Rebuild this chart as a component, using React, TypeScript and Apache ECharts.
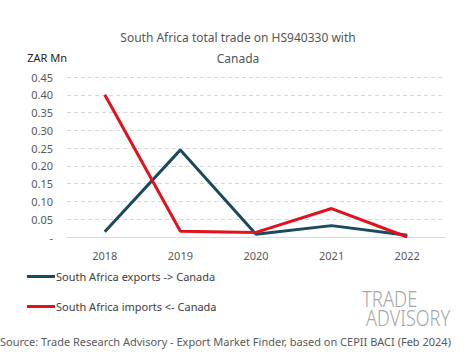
import React, { useEffect, useRef } from "react";
import * as echarts from "echarts";

const years = ["2018", "2019", "2020", "2021", "2022"];
const exportsToCanada = [0.015, 0.245, 0.008, 0.032, 0.005];
const importsFromCanada = [0.4, 0.016, 0.013, 0.08, 0.0];
const yTicks = { min: 0, max: 0.45, interval: 0.05 };

export default function App() {
  const ref = useRef<HTMLDivElement>(null);
  useEffect(() => {
    const chart = echarts.init(ref.current!, null, { renderer: "svg" });
    const font = "Noto Sans";
    chart.setOption({
      animation: false,
      backgroundColor: "#ffffff",
      textStyle: { fontFamily: font },
      title: {
        text: "South Africa total trade on HS940330 with\n\nCanada",
        left: 233,
        textAlign: "center",
        top: 27,
        textStyle: { fontSize: 12, fontWeight: "normal", color: "#555555", lineHeight: 10.5, fontFamily: font },
      },
      grid: { left: 67, right: 20, top: 77, bottom: 122, containLabel: false },
      xAxis: {
        type: "category",
        data: years,
        boundaryGap: true,
        axisLine: { show: true, lineStyle: { color: "#d9d9d9" } },
        axisTick: { show: false },
        axisLabel: { color: "#595959", fontSize: 11, margin: 13, fontFamily: font },
      },
      yAxis: {
        type: "value",
        min: yTicks.min,
        max: yTicks.max,
        interval: yTicks.interval,
        name: "ZAR Mn",
        nameLocation: "end",
        nameGap: 14,
        nameTextStyle: { color: "#222222", fontSize: 11, align: "right", padding: [0, 0, 0, 0], fontFamily: font },
        axisLine: { show: false },
        axisTick: { show: false },
        axisLabel: {
          color: "#595959",
          fontSize: 11,
          margin: 14,
          fontFamily: font,
          formatter: (v: number) => (v === 0 ? "-" : v.toFixed(2)),
        },
        splitLine: { lineStyle: { color: "#d9d9d9", type: [4, 3] } },
      },
      legend: {
        orient: "vertical",
        left: 22,
        top: 266,
        itemGap: 19,
        itemWidth: 28,
        itemHeight: 3,
        icon: "rect",
        textStyle: { color: "#404040", fontSize: 11, fontFamily: font, padding: [0, 0, 0, -4] },
        data: ["South Africa exports -> Canada", "South Africa imports <- Canada"],
      },
      series: [
        {
          name: "South Africa exports -> Canada",
          type: "line",
          data: exportsToCanada,
          symbol: "none",
          lineStyle: { color: "#1b4a5e", width: 3 },
          itemStyle: { color: "#1b4a5e" },
        },
        {
          name: "South Africa imports <- Canada",
          type: "line",
          data: importsFromCanada,
          symbol: "none",
          lineStyle: { color: "#e3111b", width: 3 },
          itemStyle: { color: "#e3111b" },
        },
      ],
      graphic: [
        {
          type: "text",
          x: 362,
          y: 288,
          scaleX: 0.84,
          style: { text: "TRADE", fontSize: 22, lineHeight: 20, fontFamily: font, fontWeight: 300, fill: "#a6a6a6" },
        },
        {
          type: "text",
          x: 366,
          y: 308,
          scaleX: 0.82,
          style: {
            text: "AD{o|V}ISORY",
            fontSize: 22,
            lineHeight: 20,
            fontFamily: font,
            fontWeight: 300,
            fill: "#a6a6a6",
            rich: { o: { fontSize: 22, lineHeight: 20, fontFamily: font, fontWeight: 300, color: "#f5a623" } },
          },
        },
        {
          type: "text",
          left: 0,
          top: 336,
          style: {
            text: "Source: Trade Research Advisory - Export Market Finder, based on CEPII BACI (Feb 2024)",
            fontSize: 11,
            fontFamily: font,
            fill: "#595959",
          },
        },
      ],
    });
    return () => chart.dispose();
  }, []);
  return <div ref={ref} style={{ position: "fixed", left: 0, top: 0, width: 465, height: 359 }} />;
}
